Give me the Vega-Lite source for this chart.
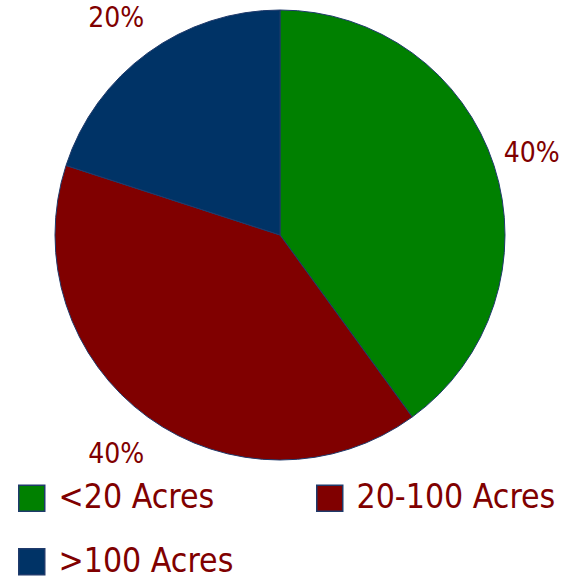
{
  "$schema": "https://vega.github.io/schema/vega-lite/v6.json",
  "width": 560,
  "height": 470,
  "padding": 0,
  "background": "white",
  "data": {
    "values": [
      {"category": "<20 Acres", "value": 40, "label": "40%", "ord": 1},
      {"category": "20-100 Acres", "value": 40, "label": "40%", "ord": 2},
      {"category": ">100 Acres", "value": 20, "label": "20%", "ord": 3}
    ]
  },
  "encoding": {
    "theta": {"field": "value", "type": "quantitative", "stack": true},
    "order": {"field": "ord", "type": "quantitative"}
  },
  "layer": [
    {
      "mark": {"type": "arc", "outerRadius": 225, "stroke": "#1f3a6b", "strokeWidth": 1},
      "encoding": {
        "color": {
          "field": "category",
          "type": "nominal",
          "scale": {
            "domain": ["<20 Acres", "20-100 Acres", ">100 Acres"],
            "range": ["#008000", "#800000", "#003366"]
          },
          "legend": {
            "title": null,
            "orient": "none",
            "legendX": 15,
            "legendY": 481,
            "direction": "horizontal",
            "columns": 2,
            "columnPadding": 79,
            "rowPadding": 29,
            "padding": 0,
            "symbolType": "square",
            "symbolSize": 676,
            "symbolStrokeColor": "#1f3a6b",
            "symbolStrokeWidth": 1.5,
            "symbolOpacity": 1,
            "labelFont": "DejaVu Sans Condensed",
            "labelFontSize": 33.5,
            "labelColor": "#800000",
            "labelOffset": 10,
            "labelLimit": 400
          }
        }
      }
    },
    {
      "mark": {
        "type": "text",
        "radius": 270,
        "dx": -5,
        "dy": 2,
        "font": "DejaVu Sans Condensed",
        "fontSize": 28,
        "color": "#800000",
        "align": "center",
        "baseline": "middle"
      },
      "encoding": {
        "text": {"field": "label", "type": "nominal"}
      }
    }
  ],
  "config": {"view": {"stroke": null}}
}
